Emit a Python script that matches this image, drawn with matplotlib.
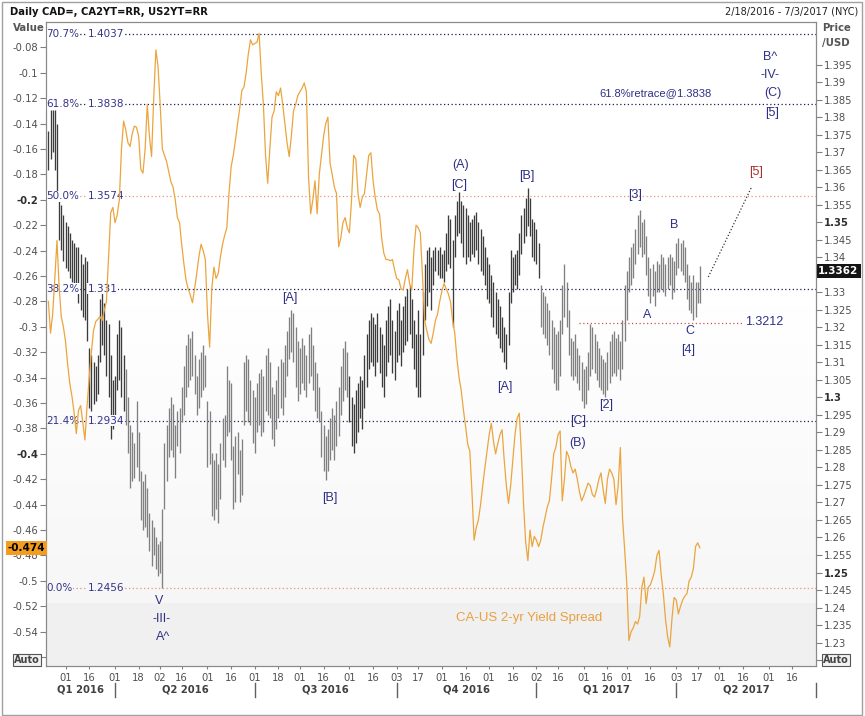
import numpy as np
import matplotlib
matplotlib.use("Agg")
import matplotlib.pyplot as plt
import matplotlib.transforms as mtransforms
from matplotlib.patches import Rectangle

plt.rcParams["axes.unicode_minus"] = False
plt.rcParams["font.family"] = ["DejaVu Sans"]

# ---------------- data ----------------
START = "2016-02-18"          # first trading day shown (business-day axis)

price_high = [
    1.376, 1.382, 1.382, 1.382, 1.378, 1.356, 1.355, 1.352, 1.350, 1.349,
    1.347, 1.345, 1.344, 1.343, 1.343, 1.341, 1.338, 1.340, 1.339, 1.314,
    1.312, 1.310, 1.309, 1.312, 1.328, 1.330, 1.327, 1.322, 1.321, 1.312,
    1.305, 1.306, 1.318, 1.322, 1.320, 1.312, 1.308, 1.300, 1.292, 1.290,
    1.287, 1.299, 1.290, 1.279, 1.276, 1.278, 1.274, 1.267, 1.265, 1.263,
    1.260, 1.258, 1.259, 1.268, 1.287, 1.292, 1.297, 1.300, 1.298, 1.292,
    1.296, 1.297, 1.303, 1.309, 1.315, 1.318, 1.317, 1.319, 1.312, 1.306,
    1.311, 1.313, 1.315, 1.312, 1.299, 1.296, 1.284, 1.282, 1.284, 1.281,
    1.287, 1.294, 1.295, 1.309, 1.305, 1.304, 1.286, 1.289, 1.290, 1.285,
    1.288, 1.310, 1.312, 1.311, 1.305, 1.302, 1.300, 1.304, 1.307, 1.308,
    1.306, 1.312, 1.314, 1.310, 1.303, 1.301, 1.305, 1.309, 1.311, 1.310,
    1.315, 1.319, 1.323, 1.325, 1.324, 1.320, 1.316, 1.314, 1.317, 1.315,
    1.312, 1.318, 1.320, 1.315, 1.310, 1.307, 1.303, 1.296, 1.292, 1.289,
    1.291, 1.294, 1.297, 1.295, 1.299, 1.303, 1.309, 1.314, 1.316, 1.313,
    1.306, 1.300, 1.298, 1.302, 1.304, 1.306, 1.305, 1.312, 1.318, 1.322,
    1.324, 1.323, 1.321, 1.324, 1.320, 1.318, 1.315, 1.322, 1.326, 1.328,
    1.322, 1.319, 1.325, 1.327, 1.322, 1.326, 1.329, 1.331, 1.332, 1.328,
    1.322, 1.318, 1.325, 1.318, 1.330, 1.338, 1.342, 1.343, 1.340, 1.342,
    1.343, 1.342, 1.343, 1.341, 1.342, 1.347, 1.352, 1.351, 1.345, 1.352,
    1.356, 1.3587, 1.356, 1.355, 1.354, 1.352, 1.350, 1.351, 1.352, 1.353,
    1.350, 1.348, 1.346, 1.343, 1.340, 1.338, 1.335, 1.333, 1.330, 1.328,
    1.326, 1.323, 1.320, 1.318, 1.330, 1.342, 1.340, 1.341, 1.342, 1.347,
    1.352, 1.354, 1.357, 1.3599, 1.357, 1.351, 1.350, 1.348, 1.344, 1.332,
    1.330, 1.329, 1.327, 1.325, 1.322, 1.320, 1.318, 1.319, 1.322, 1.332,
    1.338, 1.333, 1.325, 1.317, 1.316, 1.318, 1.314, 1.312, 1.310, 1.308,
    1.309, 1.313, 1.321, 1.320, 1.318, 1.316, 1.314, 1.312, 1.311, 1.310,
    1.313, 1.316, 1.318, 1.319, 1.317, 1.318, 1.316, 1.322, 1.332, 1.336,
    1.340, 1.343, 1.344, 1.348, 1.352, 1.3536, 1.350, 1.351, 1.346, 1.340,
    1.337, 1.338, 1.336, 1.339, 1.338, 1.341, 1.340, 1.338, 1.340, 1.341,
    1.340, 1.339, 1.344, 1.3456, 1.344, 1.345, 1.343, 1.338, 1.335, 1.333,
    1.335, 1.333, 1.333, 1.3375,
]

price_low = [
    1.365, 1.368, 1.370, 1.365, 1.359, 1.345, 1.342, 1.339, 1.337, 1.336,
    1.334, 1.333, 1.331, 1.330, 1.327, 1.325, 1.323, 1.322, 1.316, 1.297,
    1.296, 1.298, 1.299, 1.301, 1.310, 1.315, 1.312, 1.306, 1.300, 1.288,
    1.291, 1.292, 1.302, 1.305, 1.300, 1.296, 1.292, 1.284, 1.274, 1.276,
    1.277, 1.280, 1.276, 1.265, 1.262, 1.263, 1.260, 1.256, 1.252, 1.255,
    1.251, 1.249, 1.250, 1.2456, 1.268, 1.276, 1.283, 1.285, 1.283, 1.277,
    1.286, 1.284, 1.293, 1.295, 1.300, 1.303, 1.305, 1.306, 1.301, 1.295,
    1.297, 1.300, 1.302, 1.303, 1.280, 1.281, 1.266, 1.265, 1.268, 1.264,
    1.271, 1.282, 1.280, 1.289, 1.290, 1.282, 1.268, 1.270, 1.278, 1.270,
    1.272, 1.292, 1.296, 1.293, 1.292, 1.287, 1.284, 1.290, 1.292, 1.289,
    1.290, 1.296, 1.295, 1.294, 1.288, 1.286, 1.291, 1.294, 1.297, 1.295,
    1.300, 1.306, 1.311, 1.313, 1.310, 1.303, 1.299, 1.301, 1.304, 1.302,
    1.300, 1.304, 1.306, 1.302, 1.296, 1.294, 1.293, 1.283, 1.279, 1.2765,
    1.279, 1.282, 1.285, 1.282, 1.286, 1.289, 1.295, 1.299, 1.302, 1.300,
    1.293, 1.286, 1.284, 1.287, 1.290, 1.294, 1.291, 1.297, 1.303, 1.308,
    1.310, 1.309, 1.306, 1.310, 1.307, 1.303, 1.300, 1.306, 1.310, 1.312,
    1.307, 1.305, 1.310, 1.312, 1.309, 1.313, 1.315, 1.316, 1.318, 1.314,
    1.308, 1.303, 1.300, 1.300, 1.312, 1.322, 1.326, 1.330, 1.325, 1.332,
    1.336, 1.335, 1.334, 1.334, 1.333, 1.336, 1.338, 1.337, 1.320, 1.340,
    1.346, 1.347, 1.344, 1.340, 1.338, 1.340, 1.339, 1.341, 1.340, 1.342,
    1.338, 1.336, 1.335, 1.332, 1.328, 1.327, 1.323, 1.320, 1.318, 1.317,
    1.314, 1.313, 1.310, 1.308, 1.315, 1.327, 1.330, 1.332, 1.331, 1.335,
    1.341, 1.344, 1.346, 1.349, 1.346, 1.340, 1.339, 1.338, 1.334, 1.320,
    1.318, 1.317, 1.315, 1.312, 1.308, 1.304, 1.302, 1.302, 1.306, 1.318,
    1.323, 1.320, 1.312, 1.306, 1.305, 1.306, 1.304, 1.302, 1.299, 1.297,
    1.298, 1.302, 1.306, 1.308, 1.307, 1.305, 1.303, 1.302, 1.301, 1.300,
    1.302, 1.304, 1.306, 1.307, 1.306, 1.308, 1.305, 1.308, 1.316, 1.322,
    1.330, 1.332, 1.334, 1.338, 1.341, 1.343, 1.340, 1.341, 1.335, 1.329,
    1.327, 1.329, 1.326, 1.330, 1.330, 1.331, 1.330, 1.329, 1.331, 1.332,
    1.328, 1.330, 1.335, 1.337, 1.336, 1.335, 1.333, 1.328, 1.325, 1.324,
    1.322, 1.323, 1.327, 1.327,
]

spread = [
    -0.280, -0.305, -0.290, -0.262, -0.232, -0.268, -0.292, -0.300, -0.312, -0.330,
    -0.345, -0.355, -0.368, -0.384, -0.366, -0.362, -0.375, -0.389, -0.362, -0.340,
    -0.320, -0.303, -0.296, -0.294, -0.292, -0.295, -0.287, -0.280, -0.245, -0.210,
    -0.206, -0.218, -0.212, -0.200, -0.160, -0.138, -0.145, -0.155, -0.158, -0.148,
    -0.142, -0.143, -0.150, -0.176, -0.179, -0.160, -0.125, -0.150, -0.166, -0.120,
    -0.082, -0.095, -0.125, -0.160, -0.165, -0.170, -0.178, -0.186, -0.190, -0.200,
    -0.214, -0.218, -0.235, -0.250, -0.263, -0.270, -0.275, -0.281, -0.270, -0.258,
    -0.245, -0.235, -0.240, -0.247, -0.290, -0.316, -0.270, -0.253, -0.262, -0.258,
    -0.245, -0.235, -0.228, -0.222, -0.195, -0.174, -0.165, -0.153, -0.140, -0.128,
    -0.114, -0.111, -0.100, -0.085, -0.074, -0.078, -0.077, -0.076, -0.069, -0.100,
    -0.125, -0.165, -0.187, -0.160, -0.135, -0.130, -0.115, -0.118, -0.112, -0.125,
    -0.140, -0.155, -0.166, -0.150, -0.130, -0.125, -0.118, -0.115, -0.112, -0.108,
    -0.115, -0.182, -0.211, -0.200, -0.185, -0.211, -0.180, -0.165, -0.150, -0.140,
    -0.135, -0.171, -0.180, -0.190, -0.195, -0.237, -0.230, -0.218, -0.214, -0.222,
    -0.226, -0.200, -0.165, -0.168, -0.195, -0.206, -0.198, -0.195, -0.180, -0.165,
    -0.163, -0.185, -0.198, -0.208, -0.211, -0.230, -0.242, -0.247, -0.247, -0.248,
    -0.247, -0.255, -0.262, -0.263, -0.270, -0.271, -0.262, -0.255, -0.266, -0.271,
    -0.240, -0.220, -0.222, -0.226, -0.260, -0.295, -0.303, -0.310, -0.313, -0.305,
    -0.295, -0.290, -0.280, -0.272, -0.266, -0.270, -0.274, -0.280, -0.295, -0.305,
    -0.325, -0.340, -0.350, -0.365, -0.378, -0.392, -0.398, -0.430, -0.468, -0.458,
    -0.452, -0.440, -0.425, -0.411, -0.398, -0.385, -0.376, -0.390, -0.400, -0.392,
    -0.385, -0.381, -0.405, -0.425, -0.439, -0.425, -0.405, -0.385, -0.372, -0.368,
    -0.400, -0.440, -0.470, -0.484, -0.460, -0.473, -0.465, -0.468, -0.473, -0.468,
    -0.458, -0.450, -0.442, -0.437, -0.420, -0.400, -0.395, -0.385, -0.382, -0.437,
    -0.420, -0.398, -0.402, -0.410, -0.415, -0.412, -0.420, -0.430, -0.437, -0.433,
    -0.428, -0.423, -0.425, -0.432, -0.434, -0.428, -0.420, -0.415, -0.428, -0.439,
    -0.420, -0.412, -0.415, -0.420, -0.440, -0.425, -0.395, -0.450, -0.475, -0.502,
    -0.547, -0.540, -0.537, -0.532, -0.534, -0.528, -0.505, -0.497, -0.518, -0.505,
    -0.503, -0.498, -0.492, -0.480, -0.476, -0.495, -0.510, -0.530, -0.544, -0.552,
    -0.530, -0.513, -0.515, -0.526, -0.520, -0.515, -0.512, -0.510, -0.500, -0.497,
    -0.490, -0.473, -0.470, -0.474,
]

LAST_PRICE = 1.3362
LAST_SPREAD = -0.474

fib_pct = ["70.7%", "61.8%", "50.0%", "38.2%", "21.4%", "0.0%"]
fib_level = [1.4037, 1.3838, 1.3574, 1.331, 1.2934, 1.2456]
support_level = 1.3212

day_tick_dates = [
    "2016-03-01", "2016-03-16", "2016-04-01", "2016-04-18", "2016-05-02", "2016-05-16",
    "2016-06-01", "2016-06-16", "2016-07-01", "2016-07-18", "2016-08-01", "2016-08-16",
    "2016-09-01", "2016-09-16", "2016-10-03", "2016-10-17", "2016-11-01", "2016-11-16",
    "2016-12-01", "2016-12-16", "2017-01-02", "2017-01-16", "2017-02-01", "2017-02-16",
    "2017-03-01", "2017-03-16", "2017-04-03", "2017-04-17", "2017-05-01", "2017-05-16",
    "2017-06-01", "2017-06-16",
]
quarter_starts = ["2016-04-01", "2016-07-01", "2016-10-03", "2017-01-02", "2017-04-03", "2017-07-03"]
quarter_names = ["Q1 2016", "Q2 2016", "Q3 2016", "Q4 2016", "Q1 2017", "Q2 2017"]

# Elliott-wave labels: (text, business-day position, price, colour)
NAVY = "#2f2f86"
RED = "#a83232"
wave_labels = [
    ("V", 51.3, 1.2420, NAVY), ("-III-", 52.8, 1.2368, NAVY), ("A^", 53.5, 1.2316, NAVY),
    ("[A]", 112.3, 1.3284, NAVY), ("[B]", 130.8, 1.2713, NAVY),
    ("(A)", 191.8, 1.3664, NAVY), ("[C]", 191.2, 1.3607, NAVY),
    ("[B]", 222.7, 1.3633, NAVY), ("[A]", 212.4, 1.3031, NAVY),
    ("[C]", 246.5, 1.2934, NAVY), ("(B)", 246.2, 1.2870, NAVY),
    ("[2]", 259.6, 1.2977, NAVY), ("[3]", 273.0, 1.3579, NAVY),
    ("A", 278.7, 1.3236, NAVY), ("B", 291.1, 1.3493, NAVY),
    ("C", 298.4, 1.3189, NAVY), ("[4]", 297.3, 1.3136, NAVY),
    ("[5]", 329.3, 1.3643, RED),
    ("B^", 335.5, 1.3973, NAVY), ("-IV-", 335.5, 1.3922, NAVY),
    ("(C)", 337.0, 1.3870, NAVY), ("[5]", 336.5, 1.3813, NAVY),
]
retrace_note = ("61.8%retrace@1.3838", 256.2, 1.3870)
support_span = (246.9, 322.6)
projection = ([306.9, 326.9], [1.3344, 1.3599])
spread_note = ("CA-US 2-yr Yield Spread", 189.8, 1.2370)

# ---------------- figure ----------------
W, H = 865, 716
fig = plt.figure(figsize=(W / 100, H / 100), dpi=100)
fig.patch.set_facecolor("white")


def fx(px):
    return px / W


def fy(py):
    return 1 - py / H


def bidx(d):
    return int(np.busday_count(np.datetime64(START), np.datetime64(d)))


L, R, T, B = 46, 816, 21.7, 666
ax = fig.add_axes([fx(L), fy(B), fx(R) - fx(L), fy(T) - fy(B)])
ax2 = ax.twinx()
ax.set_zorder(3)
ax.patch.set_visible(False)

XMIN, XMAX = -1.1, 357.0
ax.set_xlim(XMIN, XMAX)
ax.set_ylim(-0.567, -0.0598)
ax2.set_ylim(1.2233, 1.4073)

# background shading (white top, grey gradient lower part)
H_ax = B - T
nstrip = 40
y0p, y1p = 290, 603
for k in range(nstrip):
    ya = y0p + (y1p - y0p) * k / nstrip
    yb = y0p + (y1p - y0p) * (k + 1) / nstrip
    g = 1.0 - 0.035 * (k + 0.5) / nstrip
    ax2.add_patch(Rectangle((0, (B - yb) / H_ax), 1, (yb - ya) / H_ax,
                            transform=ax2.transAxes, fc=(g, g, g), ec="none", zorder=0))
ax2.add_patch(Rectangle((0, 0), 1, (B - y1p) / H_ax, transform=ax2.transAxes,
                        fc="#f0f0f0", ec="none", zorder=0))

# price OHLC-style bars
n = len(price_high)
xi = np.arange(n)
DARK_SPANS = [(0, 35), (140, 228)]
bar_colors = ["#3c3c3c" if any(a <= i <= b for a, b in DARK_SPANS) else "#808080" for i in xi]
ax2.vlines(xi, price_low, price_high, colors=bar_colors, lw=0.95, zorder=3)

# spread line
ax.plot(np.arange(len(spread)), spread, color="#eba53e", lw=0.9, zorder=4)

# fib levels
fib_line_colors = ["#1e1e50", "#1e1e50", "#e4967c", "#1e1e50", "#1e1e50", "#e4967c"]
fib_bg = ["white", "white", "white", "#fcfcfc", "#f9f9f9", "#f6f6f6"]
blend2 = mtransforms.blended_transform_factory(ax2.transAxes, ax2.transData)
for pct, lev, c, bg in zip(fib_pct, fib_level, fib_line_colors, fib_bg):
    ax2.axhline(lev, color=c, lw=0.9, ls=(0, (1, 2)), zorder=2)
    ax2.text(0.0, lev, pct, transform=blend2, ha="left", va="center", fontsize=7.5,
             color="#33338a", zorder=5,
             bbox=dict(boxstyle="square,pad=0.05", fc=bg, ec="none"))
    ax2.text((88 - L) / (R - L), lev, f"{lev:g}", transform=blend2, ha="left", va="center",
             fontsize=7.5, color="#33338a", zorder=5,
             bbox=dict(boxstyle="square,pad=0.05", fc=bg, ec="none"))

# support line and projection
ax2.hlines(support_level, support_span[0], support_span[1], colors="#d05050", lw=0.9,
           linestyles=(0, (1, 2)), zorder=2)
ax2.plot(projection[0], projection[1], color="#333333", lw=0.9, ls=(0, (1, 1.6)), zorder=3)

NARROW = ["Liberation Sans"]
for txt, xpos, p, col in wave_labels:
    ax2.text(xpos, p, txt, ha="center", va="center", fontsize=9, color=col,
             family=NARROW, zorder=6)
ax2.text(retrace_note[1], retrace_note[2], retrace_note[0], ha="left", va="center",
         fontsize=8, color=NAVY, family=NARROW, zorder=6)
ax2.text(support_span[1] + 1.5, support_level + 0.0004, f"{support_level:g}", ha="left",
         va="center", fontsize=9, color=NAVY, family=NARROW, zorder=6)
ax2.text(spread_note[1], spread_note[2], spread_note[0], ha="left", va="center",
         fontsize=9.5, color="#e8a040", family=NARROW, zorder=6)

# ---------------- axes styling ----------------
for a in (ax, ax2):
    for s in a.spines.values():
        s.set_color("#8a8a8a")
        s.set_linewidth(0.8)

left_ticks = np.round(np.arange(-0.56, -0.079, 0.02), 2)
left_labels = ["" if abs(v + 0.56) < 1e-9 else f"{v:g}" for v in left_ticks]
ax.set_yticks(left_ticks)
ax.set_yticklabels(left_labels)
ax.tick_params(axis="y", direction="out", length=4, width=0.8, color="#808080",
               labelsize=7.2, labelcolor="#505050", pad=1.5)
for lab, v in zip(ax.get_yticklabels(), left_ticks):
    if abs(v + 0.2) < 1e-9 or abs(v + 0.4) < 1e-9:
        lab.set_fontweight("bold")
        lab.set_color("#303030")

right_ticks = np.round(np.arange(1.225, 1.3951, 0.005), 3)
right_labels = ["" if (abs(v - 1.225) < 1e-9 or abs(v - 1.335) < 1e-9) else f"{v:g}"
                for v in right_ticks]
ax2.set_yticks(right_ticks)
ax2.set_yticklabels(right_labels)
ax2.tick_params(axis="y", direction="out", length=4, width=0.8, color="#808080",
                labelsize=7.2, labelcolor="#505050", pad=1.5)
for lab, v in zip(ax2.get_yticklabels(), right_ticks):
    if min(abs(v - 1.25), abs(v - 1.3), abs(v - 1.35)) < 1e-9:
        lab.set_fontweight("bold")
        lab.set_color("#303030")

tick_pos = [bidx(d) for d in day_tick_dates]
ax.set_xticks(tick_pos)
ax.set_xticklabels([d[-2:] for d in day_tick_dates])
ax.tick_params(axis="x", direction="out", length=2.5, width=0.8, color="#808080",
               labelsize=7.2, labelcolor="#505050", pad=2.5)
ax.set_xlim(XMIN, XMAX)

# quarter labels and separators
blend_x = mtransforms.blended_transform_factory(ax.transData, fig.transFigure)
q_pos = [bidx(d) for d in quarter_starts]
edges = [XMIN] + q_pos
for name, a, b in zip(quarter_names, edges[:-1], edges[1:]):
    fig.text((a + b) / 2, fy(690), name, transform=blend_x, ha="center", va="center",
             fontsize=7.2, fontweight="bold", color="#404040")
for qp in q_pos:
    fig.add_artist(plt.Line2D([qp, qp], [fy(683), fy(697)], transform=blend_x,
                              color="#606060", lw=1.0))

# last value tags
blend1 = mtransforms.blended_transform_factory(ax.transAxes, ax.transData)
ax.text(-0.001, LAST_SPREAD, f"{LAST_SPREAD:g}", transform=blend1, ha="right", va="center",
        fontsize=7.5, fontweight="bold", color="black", clip_on=False, zorder=10,
        bbox=dict(boxstyle="square,pad=0.2", fc="#f39c1e", ec="none"))
ax2.text(1.003, LAST_PRICE, f"{LAST_PRICE:.4f}", transform=blend2, ha="left", va="center",
         fontsize=7.5, fontweight="bold", color="white", clip_on=False, zorder=10,
         bbox=dict(boxstyle="square,pad=0.2", fc="#141414", ec="none"))

# header and axis titles
fig.text(fx(10), fy(12), "Daily CAD=, CA2YT=RR, US2YT=RR", ha="left", va="center",
         fontsize=7.2, fontweight="bold", color="#111111")
fig.text(fx(858), fy(12), "2/18/2016 - 7/3/2017 (NYC)", ha="right", va="center",
         fontsize=7.0, color="#222222")
fig.text(fx(13), fy(28), "Value", ha="left", va="center", fontsize=7.3,
         fontweight="bold", color="#555555")
fig.text(fx(822), fy(28), "Price", ha="left", va="center", fontsize=7.3,
         fontweight="bold", color="#555555")
fig.text(fx(822), fy(43), "/USD", ha="left", va="center", fontsize=7.3,
         fontweight="bold", color="#555555")
for xp in (14, 823):
    fig.text(fx(xp), fy(660), "Auto", ha="left", va="center", fontsize=7,
             fontweight="bold", color="#444444",
             bbox=dict(boxstyle="square,pad=0.12", fc="#f2f2f2", ec="#555555", lw=0.8))

# outer window frame
fig.add_artist(Rectangle((fx(1.5), fy(714.5)), fx(862) - fx(1.5), fy(1.5) - fy(714.5),
                         transform=fig.transFigure, fill=False, ec="#a0a0a0", lw=1.0))

fig.savefig("out.png", dpi=100)
